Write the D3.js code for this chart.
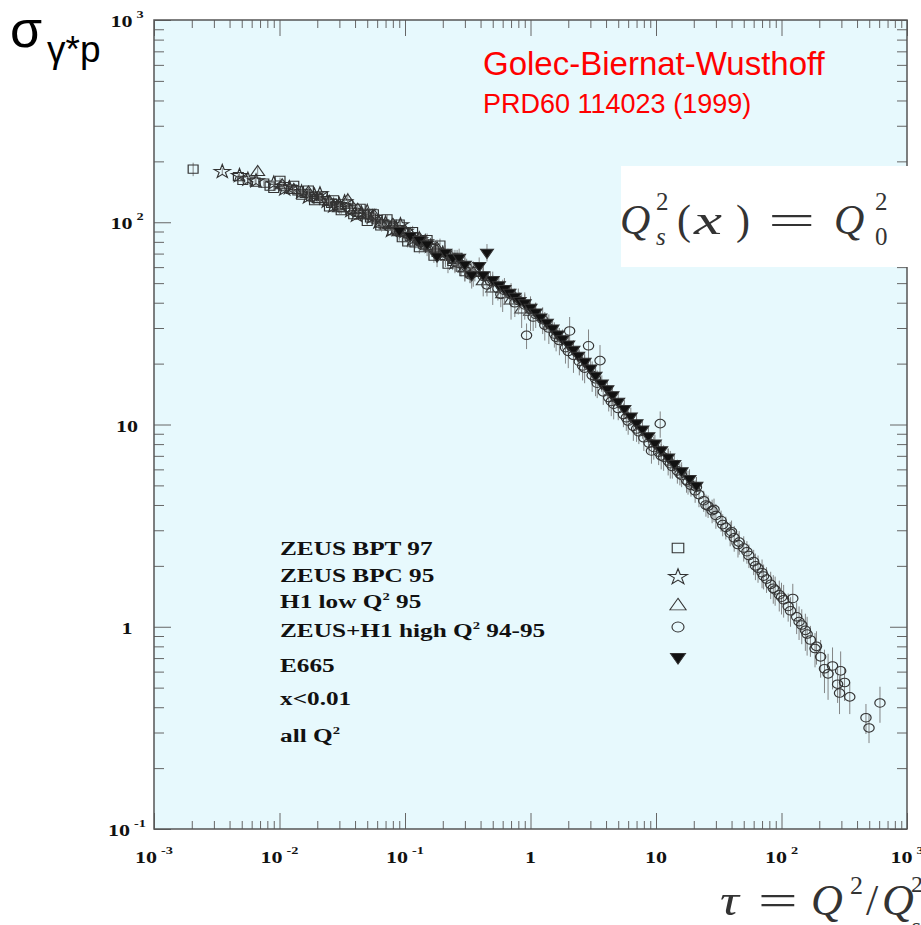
<!DOCTYPE html>
<html>
<head>
<meta charset="utf-8">
<script src="https://cdn.jsdelivr.net/npm/d3@7"></script>
<style>
  body { margin: 0; background: #fff; }
  svg { display: block; }
</style>
</head>
<body>
<div id="chart"></div>
<script>

// each point: [tau, sigma, error on sigma]
var zeusBPT97 = [
    [0.00205,183,14],[0.0047,168,6],[0.0051,161,5],[0.0064,158,5],[0.0075,156,5],[0.0084,151,4],
    [0.009,147,4],[0.0101,161,5],[0.011,150,4],[0.0125,146,4],[0.013,152,5],[0.014,143,4],
    [0.015,136,4],[0.016,139,4],[0.017,144,5],[0.018,134,4],[0.019,128,4],[0.02,131,5],
    [0.022,135,5],[0.023,128,4],[0.025,119,4],[0.026,124,4],[0.027,129,5],[0.029,121,5],
    [0.031,114,4],[0.033,118,4],[0.035,123,5],[0.037,115,5],[0.039,109,4],[0.042,112,4],
    [0.044,117,5],[0.047,109,4],[0.05,101,4],[0.053,105,5],[0.056,110,5],[0.06,103,5],
    [0.064,96,4],[0.068,98,4],[0.072,104,5],[0.076,96,5],[0.08,91,4],[0.086,92,5],
    [0.09,98,5],[0.095,84,5],[0.098,89,5],[0.105,80,5],[0.11,85,5],[0.115,90,6],
    [0.12,79,5],[0.13,75,5],[0.14,78,6],[0.15,82,6],[0.16,75,6],[0.17,68,5],
    [0.18,71,6],[0.19,77,6],[0.21,68,6],[0.22,62,6],[0.24,64,6],[0.26,67,6],
    [0.28,60,6],[0.3,57,6],[0.33,56,6]
];

var zeusBPC95 = [
    [0.0035,178,7],[0.0048,170,6],[0.0056,163,5],[0.0065,160,5],[0.009,156,5],[0.011,146,5],
    [0.012,148,5],[0.015,141,5],[0.017,133,5],[0.019,136,5],[0.021,138,5],[0.024,127,5],
    [0.027,120,5],[0.03,122,5],[0.033,126,5],[0.037,114,5],[0.041,108,5],[0.045,111,5],
    [0.05,113,5],[0.055,106,5],[0.062,100,6],[0.07,99,6],[0.078,91,6],[0.085,94,6],
    [0.092,97,6],[0.1,90,6],[0.115,82,6],[0.13,82,6],[0.145,80,6],[0.16,76,6],
    [0.2,70,7],[0.25,63,7]
];

var h1LowQ2 = [
    [0.0067,177,10],[0.0105,152,6],[0.013,144,6],[0.017,140,6],[0.021,130,6],[0.025,126,6],
    [0.03,117,7],[0.035,128,12],[0.042,115,7],[0.05,108,7],[0.057,107,10],[0.065,98,8],
    [0.08,97,8],[0.09,89,8],[0.1,90,8],[0.11,87,8],[0.13,83,8],[0.15,76,8],[0.18,74,8],
    [0.21,68,8],[0.25,65,8],[0.3,59,8],[0.35,56,8],[0.42,51,8],[0.5,47,8],[0.6,44,8],
    [0.7,41,8],[0.85,37,7],[1.0,36,7]
];

var highQ2 = [
    [0.13,80,5],[0.17,74,5],[0.22,69,5],[0.24,66,5],[0.26,63,6],[0.31,60,6],[0.33,55,5],
    [0.36,57,6],[0.42,54,7],[0.45,49,6],[0.48,51,6],[0.55,47,6],[0.58,44,6],[0.62,46,7],
    [0.7,44,6],[0.75,40,6],[0.8,41,6],[0.9,39,6],[0.93,27.6,4],[1.0,37,5],[1.05,34,5],
    [1.1,35,5],[1.25,33,5],[1.3,31,5],[1.4,30,5],[1.55,28,4],[1.6,27,4],[1.7,26,4],
    [1.9,24,4],[2.0,23,4],[2.05,29,5],[2.2,22,4],[2.45,20.5,3],[2.6,19.5,3],[2.7,19,3],
    [2.9,24.5,5],[3.1,17.5,3],[3.3,16.8,3],[3.4,16,2.5],[3.58,20.7,4],[3.8,14.5,2],
    [4.2,13.6,2],[4.4,13,2],[4.6,12.6,2],[5.0,12,1.5],[5.5,11.2,1.5],[5.8,10.8,1.5],
    [6.0,10.4,1.5],[6.6,9.8,1.5],[7.0,9.5,1.3],[7.3,9.2,1.2],[8.0,8.6,1.2],[8.8,8.1,1],
    [9.2,7.4,1],[9.6,7.7,1],[10.5,7.3,1],[10.8,10.1,1.5],[11,7.0,1],[11.5,6.9,1],
    [12.5,6.6,1],[13,6.4,1],[13.5,6.2,0.8],[14.8,5.9,0.8],[15.5,5.7,0.7],[16,5.6,0.7],
    [17.5,5.3,0.7],[18,5.2,0.7],[19,5.0,0.6],[20.5,4.7,0.6],[21,4.9,0.6],[22,4.5,0.6],
    [24,4.2,0.5],[25,4.0,0.5],[26,3.95,0.5],[28,3.75,0.5],[29,3.8,0.5],[30,3.55,0.5],
    [33,3.35,0.4],[34,3.2,0.4],[36,3.1,0.4],[39,2.9,0.4],[40,2.95,0.4],[42,2.75,0.4],
    [45,2.55,0.35],[46,2.62,0.35],[50,2.45,0.35],[53,2.35,0.3],[55,2.25,0.3],[60,2.1,0.3],
    [62,2.0,0.3],[65,1.95,0.3],[70,1.85,0.3],[72,1.78,0.25],[76,1.72,0.25],[82,1.62,0.25],
    [86,1.55,0.25],[89,1.52,0.25],[96,1.44,0.25],[100,1.4,0.25],[104,1.36,0.25],
    [113,1.26,0.2],[118,1.2,0.2],[123,1.38,0.25],[132,1.12,0.2],[138,1.06,0.2],
    [145,1.02,0.2],[155,0.96,0.2],[160,0.92,0.2],[170,0.86,0.15],[185,0.78,0.15],
    [190,0.8,0.15],[205,0.71,0.15],[220,0.62,0.15],[235,0.585,0.15],[255,0.64,0.15],
    [280,0.52,0.1],[290,0.47,0.1],[296,0.605,0.15],[318,0.53,0.1],[350,0.45,0.08],
    [471,0.355,0.06],[498,0.316,0.05],[609,0.42,0.085]
];

var e665 = [
    [0.09,91,5],[0.11,86,5],[0.13,82,5],[0.15,78,6],[0.18,68,8],[0.21,71,6],[0.24,67,6],
    [0.27,67,7],[0.3,62,6],[0.34,55,8],[0.39,61,6],[0.42,55,5],[0.45,71,7],[0.5,52,5],
    [0.56,49,5],[0.62,47,5],[0.68,45,4],[0.75,43,4],[0.82,41,4],[0.9,40,4],[1.0,38,4],
    [1.1,36,4],[1.2,34,3],[1.35,32,3],[1.5,30,3],[1.65,28,3],[1.8,26.5,3],[2.0,25,2.5],
    [2.2,23.5,2.5],[2.4,22,2],[2.7,20.5,2],[3.0,19,2],[3.3,17.5,2],[3.7,16,1.5],
    [4.1,15,1.5],[4.5,14,1.5],[5.0,13,1.3],[5.6,12,1.2],[6.3,11,1.1],[7.0,10.2,1],
    [7.8,9.5,1],[8.7,8.8,0.9],[9.8,8.1,0.8],[11,7.5,0.8],[12.5,6.9,0.7],[14,6.4,0.7],
    [16,5.9,0.6],[18.5,5.4,0.6],[21,5.0,0.5]
];

// tick labels
var xTickValues = [1e-3, 1e-2, 1e-1, 1, 10, 100, 1000];
var xTickBase   = ["10", "10", "10", "1", "10", "10", "10"];
var xTickExp    = ["-3", "-2", "-1", "", "", "2", "3"];
var yTickValues = [0.1, 1, 10, 100, 1000];
var yTickBase   = ["10", "1", "10", "10", "10"];
var yTickExp    = ["-1", "", "", "2", "3"];

// legend
var legendNames = ["ZEUS BPT 97", "ZEUS BPC 95", "H1 low Q|2| 95", "ZEUS+H1 high Q|2| 94-95", "E665"];
var legendNotes = ["x<0.01", "all Q|2|"];


var width = 921,
    height = 925,
    pLeft = 154, pRight = 907, pTop = 20, pBottom = 829,
    ink = "#333",
    serif = "'Liberation Serif', 'Times New Roman', serif",
    sans = "'Liberation Sans', Arial, sans-serif";

var svg = d3.select("#chart").append("svg")
    .attr("width", width)
    .attr("height", height);

var x = d3.scaleLog().domain([1e-3, 1e3]).range([pLeft, pRight]);
var y = d3.scaleLog().domain([1e-1, 1e3]).range([pBottom, pTop]);

svg.append("rect")
    .attr("x", pLeft).attr("y", pTop)
    .attr("width", pRight - pLeft).attr("height", pBottom - pTop)
    .attr("fill", "#e7f9fd");

// minor tick positions 2..9 inside each decade
var minorOf = function(decades) {
    var out = [];
    decades.slice(0, -1).forEach(function(d) {
        for (var k = 2; k < 10; k++) out.push(d * k);
    });
    return out;
};
var xMinor = minorOf(xTickValues),
    yMinor = minorOf(yTickValues);

var drawAxis = function(axis, tr) {
    var g = svg.append("g").attr("transform", tr).call(axis);
    g.select(".domain").remove();
    g.selectAll("line").attr("stroke", "#666").attr("stroke-width", 1);
    g.selectAll("text").remove();
};

drawAxis(d3.axisBottom(x).tickValues(xTickValues).tickSize(-16), "translate(0," + pBottom + ")");
drawAxis(d3.axisBottom(x).tickValues(xMinor).tickSize(-8), "translate(0," + pBottom + ")");
drawAxis(d3.axisTop(x).tickValues(xTickValues).tickSize(-16), "translate(0," + pTop + ")");
drawAxis(d3.axisTop(x).tickValues(xMinor).tickSize(-8), "translate(0," + pTop + ")");
drawAxis(d3.axisLeft(y).tickValues(yTickValues).tickSize(-17), "translate(" + pLeft + ",0)");
drawAxis(d3.axisLeft(y).tickValues(yMinor).tickSize(-10), "translate(" + pLeft + ",0)");
drawAxis(d3.axisRight(y).tickValues(yTickValues).tickSize(-17), "translate(" + pRight + ",0)");
drawAxis(d3.axisRight(y).tickValues(yMinor).tickSize(-10), "translate(" + pRight + ",0)");

svg.append("rect")
    .attr("x", pLeft).attr("y", pTop)
    .attr("width", pRight - pLeft).attr("height", pBottom - pTop)
    .attr("fill", "none").attr("stroke", "#555").attr("stroke-width", 1.5);

// power-of-ten label, stretched sideways like the scanned original
var powerLabel = function(cx, baseline, base, exp) {
    var t = svg.append("text")
        .attr("transform", "translate(" + cx + "," + baseline + ") scale(1.3,1)")
        .attr("text-anchor", "middle")
        .attr("font-family", serif)
        .attr("font-weight", "bold")
        .attr("font-size", 17)
        .attr("fill", "#111");
    t.append("tspan").text(base);
    if (exp) {
        t.append("tspan").attr("dx", 3).attr("dy", -9).attr("font-size", 11).text(exp);
    }
};

xTickValues.forEach(function(v, i) {
    powerLabel(x(v), 863, xTickBase[i], xTickExp[i]);
});
yTickValues.forEach(function(v, i) {
    powerLabel(127, y(v) + 7, yTickBase[i], yTickExp[i]);
});

// data
var symDown = d3.symbol().type(d3.symbolTriangle).size(50)();

var series = [
    { data: zeusBPT97, path: d3.symbol().type(d3.symbolSquare).size(68)(), fill: "none", rot: 0 },
    { data: zeusBPC95, path: d3.symbol().type(d3.symbolStar).size(58)(), fill: "none", rot: 0 },
    { data: h1LowQ2,   path: d3.symbol().type(d3.symbolTriangle).size(58)(), fill: "none", rot: 0 },
    { data: highQ2,    path: d3.symbol().type(d3.symbolCircle).size(58)(), fill: "none", rot: 0 },
    { data: e665,      path: symDown, fill: "#111", rot: 180 }
];

series.forEach(function(s) {
    var g = svg.append("g");

    g.selectAll("line.err")
        .data(s.data)
        .enter()
        .append("line")
        .classed("err", true)
        .attr("x1", function(d) { return x(d[0]); })
        .attr("x2", function(d) { return x(d[0]); })
        .attr("y1", function(d) { return y(d[1] - d[2]); })
        .attr("y2", function(d) { return y(d[1] + d[2]); })
        .attr("stroke", "#777")
        .attr("stroke-width", 0.9);

    g.selectAll("path")
        .data(s.data)
        .enter()
        .append("path")
        .attr("d", s.path)
        .attr("transform", function(d) {
            return "translate(" + x(d[0]) + "," + y(d[1]) + ") scale(1.2,1) rotate(" + s.rot + ")";
        })
        .attr("fill", s.fill)
        .attr("stroke", ink)
        .attr("stroke-width", 1);
});

// legend
var legendBase = [555, 582, 608, 637, 672];
var legendMarkY = [548, 577, 606, 627, 657];
var noteBase = [705, 742];

var writeLegendText = function(label, baseline) {
    var t = svg.append("text")
        .attr("transform", "translate(280," + baseline + ") scale(1.33,1)")
        .attr("font-family", serif)
        .attr("font-weight", "bold")
        .attr("font-size", 19)
        .attr("fill", "#111");
    // "|2|" marks a superscript 2
    label.split("|").forEach(function(part, i) {
        if (i % 2 === 1) {
            t.append("tspan").attr("dy", -8).attr("font-size", 11).text(part);
        } else if (i > 0) {
            t.append("tspan").attr("dy", 8).text(part);
        } else {
            t.append("tspan").text(part);
        }
    });
};

legendNames.forEach(function(name, i) {
    writeLegendText(name, legendBase[i]);
    svg.append("path")
        .attr("d", i === 4 ? symDown : series[i].path)
        .attr("transform", "translate(678," + legendMarkY[i] + ") scale(1.4,1.15) rotate(" + series[i].rot + ")")
        .attr("fill", series[i].fill)
        .attr("stroke", ink)
        .attr("stroke-width", 0.8);
});
legendNotes.forEach(function(note, i) {
    writeLegendText(note, noteBase[i]);
});

// sigma label
var sig = svg.append("text")
    .attr("x", 10).attr("y", 47)
    .attr("font-family", sans)
    .attr("fill", "#000");
sig.append("tspan").attr("font-size", 52).text("σ");
sig.append("tspan").attr("dx", 5).attr("dy", 15).attr("font-size", 37).text("γ*p");

// red reference
svg.append("text")
    .attr("x", 483).attr("y", 75)
    .attr("font-family", sans)
    .attr("font-size", 33)
    .attr("fill", "#ff0000")
    .text("Golec-Biernat-Wusthoff");
svg.append("text")
    .attr("x", 483).attr("y", 113)
    .attr("font-family", sans)
    .attr("font-size", 27)
    .attr("fill", "#ff0000")
    .text("PRD60 114023 (1999)");

// saturation scale formula box
svg.append("rect")
    .attr("x", 621).attr("y", 166)
    .attr("width", 300).attr("height", 101)
    .attr("fill", "#fff");

var mathText = function(xp, yp, size, str, italic, sx) {
    svg.append("text")
        .attr("transform", "translate(" + xp + "," + yp + ") scale(" + (sx || 1) + ",1)")
        .attr("font-family", serif)
        .attr("font-style", italic ? "italic" : "normal")
        .attr("font-size", size)
        .attr("fill", "#333")
        .text(str);
};

mathText(620, 234, 42, "Q", true);
mathText(656, 210, 25, "2", false);
mathText(656, 245, 25, "s", true);
mathText(677, 234, 42, "(", false);
mathText(694, 234, 42, "x", true, 1.5);
mathText(736, 234, 42, ")", false);
mathText(768, 234, 42, "=", false, 2);
mathText(834, 234, 42, "Q", true);
mathText(875, 210, 25, "2", false);
mathText(875, 245, 25, "0", false);

// x-axis variable
mathText(720, 915, 44, "τ", true, 1.2);
mathText(758, 915, 44, "=", false, 1.6);
mathText(811, 915, 44, "Q", true);
mathText(850, 894, 26, "2", false);
mathText(866, 915, 44, "/", false);
mathText(882, 915, 44, "Q", true);
mathText(911, 892, 24, "2", false);
mathText(911, 934, 24, "s", true);

</script>
</body>
</html>
